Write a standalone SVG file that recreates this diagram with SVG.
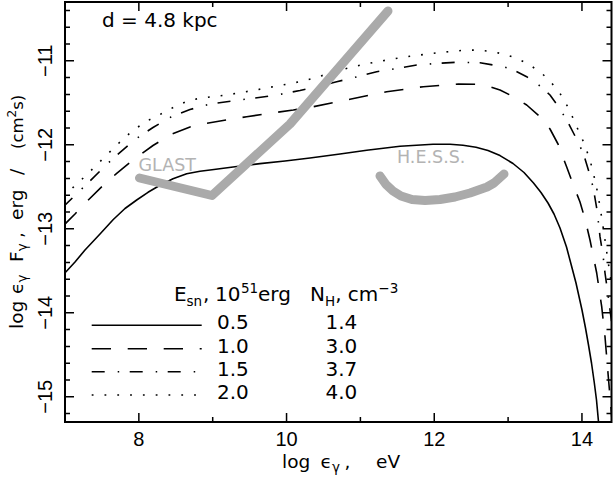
<svg xmlns="http://www.w3.org/2000/svg" width="613" height="484" viewBox="0 0 613 484">
<style>
  .frame{fill:none;stroke:#000;stroke-width:2}
  .tick{fill:none;stroke:#000;stroke-width:1.5}
  .crv{fill:none;stroke:#000;stroke-width:1.6;stroke-linejoin:round}
  .solid{}
  .dash{stroke-dasharray:19.3 16.7}
  .dashdot{stroke-dasharray:13 13 1.5 10.5}
  .dot{stroke-dasharray:1.8 11}
  .obs{fill:none;stroke:#aaaaaa;stroke-width:9;stroke-linecap:round;stroke-linejoin:round}
  .obslbl{font-family:"DejaVu Sans",sans-serif;font-size:17.5px;fill:#b3b3b3}
  .t{font-family:"DejaVu Sans",sans-serif;font-size:20px;fill:#000}
  .tl{font-family:"Liberation Sans",Arial,sans-serif;font-size:20px;fill:#000}
  .ax{font-family:"DejaVu Sans",sans-serif;font-size:18.5px;fill:#000}
  .small{font-size:13.5px}
</style>
<defs>
  <clipPath id="plotclip"><rect x="65" y="2" width="546.5" height="420"/></clipPath>
</defs>

<g id="frame">
  <rect class="frame" x="65" y="2" width="546.5" height="420"/>
  <path class="tick" d="M138.85 422v-9M286.55 422v-9M434.25 422v-9M581.95 422v-9M212.7 422v-5M360.4 422v-5M508.1 422v-5
  M138.85 2v9M286.55 2v9M434.25 2v9M581.95 2v9M212.7 2v5M360.4 2v5M508.1 2v5
  M65 10.4h5M65 27.2h5M65 44h5M65 60.8h9M65 77.6h5M65 94.4h5M65 111.2h5M65 128h5M65 144.8h9M65 161.6h5M65 178.4h5M65 195.2h5M65 212h5M65 228.8h9M65 245.6h5M65 262.4h5M65 279.2h5M65 296h5M65 312.8h9M65 329.6h5M65 346.4h5M65 363.2h5M65 380h5M65 396.8h9M65 413.6h5
  M611.5 10.4h-5M611.5 27.2h-5M611.5 44h-5M611.5 60.8h-9M611.5 77.6h-5M611.5 94.4h-5M611.5 111.2h-5M611.5 128h-5M611.5 144.8h-9M611.5 161.6h-5M611.5 178.4h-5M611.5 195.2h-5M611.5 212h-5M611.5 228.8h-9M611.5 245.6h-5M611.5 262.4h-5M611.5 279.2h-5M611.5 296h-5M611.5 312.8h-9M611.5 329.6h-5M611.5 346.4h-5M611.5 363.2h-5M611.5 380h-5M611.5 396.8h-9M611.5 413.6h-5"/>
</g>

<g id="axis-labels">
  <text class="tl" x="138.85" y="446" text-anchor="middle">8</text>
  <text class="tl" x="286.55" y="446" text-anchor="middle">10</text>
  <text class="tl" x="434.25" y="446" text-anchor="middle">12</text>
  <text class="tl" x="581.95" y="446" text-anchor="middle">14</text>
  <text class="tl" transform="translate(51.5,60.8) rotate(-90)" text-anchor="middle">−11</text>
  <text class="tl" transform="translate(51.5,144.8) rotate(-90)" text-anchor="middle">−12</text>
  <text class="tl" transform="translate(51.5,228.8) rotate(-90)" text-anchor="middle">−13</text>
  <text class="tl" transform="translate(51.5,312.8) rotate(-90)" text-anchor="middle">−14</text>
  <text class="tl" transform="translate(51.5,396.8) rotate(-90)" text-anchor="middle">−15</text>
  <text class="ax" y="467.7"><tspan x="282">log</tspan><tspan x="320.5">ϵ</tspan><tspan class="small" dy="4">γ</tspan><tspan x="344.5" dy="-4">,</tspan><tspan x="376">eV</tspan></text>
  <text class="ax" transform="translate(23,0) rotate(-90)"><tspan x="-329">log</tspan><tspan x="-294">ϵ</tspan><tspan class="small" dy="4">γ</tspan><tspan x="-262" dy="-4">F</tspan><tspan class="small" dy="4">γ</tspan><tspan x="-238" dy="-4">,</tspan><tspan x="-220">erg</tspan><tspan x="-175">/</tspan><tspan x="-149" font-size="16.5">(cm</tspan><tspan font-size="12" dy="-7.5">2</tspan><tspan font-size="16.5" dy="7.5">s)</tspan></text>
</g>

<g id="title">
  <text class="t" x="102" y="26.7">d = 4.8 kpc</text>
</g>

<g id="connectors" clip-path="url(#plotclip)">
  <polyline id="curve-0.5" class="crv solid" points="64,274 75,262 85,250 100,234 113.3,219.5 125,208.5 136.7,200 148,192.3 160,185.3 173,178.7 186.7,173.7 200,171.2 212,169.8 235,166.8 260,163.6 285,161 310,158 340,154 366.7,150.2 400,146.3 433,144.3 450,144.2 463,145.2 476,147.3 488,150.6 500,155.6 513,163.5 524,172.5 533.5,183 541,192.5 548,203 554,214 560,228 566.5,247 571,264 576,283 582,310 585.5,328 588.5,345 591.5,363 594.2,382 596.5,400 598.8,425"/>
  <polyline id="curve-1.0" class="crv dash" points="63,226 75,214 88.3,200 102,186.5 116.7,173.3 135,158.5 153,145.5 171.7,134 190,127 206.7,123.3 226,120 246.7,116.7 270,113.3 293.3,110 313.3,106.7 350,99.3 386.7,91.7 423.3,86.7 458.3,84 476.7,84.3 489,86.5 500,90 513,96.5 526.7,105 540,116.7 550,129 558,144 566.7,167 573,184 580,202 585,219 590,240 596.7,273 601.7,306.7 605,336.7 608.3,376.7 610.3,400 612,420"/>
  <polyline id="curve-1.5" class="crv dashdot" points="63,207 77,193.5 90,181 104,167 117,155 135,139.5 153,127.5 171,117 190,109.5 210,104 247,99 273,95.7 300,90.5 320,86 336.7,81.7 350,78.6 376.7,71.7 400,68 416.7,65 440,63.2 456.7,62.3 480,62.7 503.3,66.7 515,70.8 526.7,76.7 540,86 550,95 558,106 566.7,120 575,136 583.3,153.3 589,172 593.3,188 597,210 600,236.7 603,255 605,273 608.3,296.7 610,310 612,325"/>
  <polyline id="curve-2.0" class="crv dot" points="63,196.5 78,183 90,171.5 106.7,155 120,142 133.3,130 148,120.5 163,113 176,106 190,100 208,97.2 226.7,95 250,91 273.3,86.7 300,81.7 313.3,78.3 340,70 363,64.5 386.7,60 410,56.3 433.3,53.3 450,51.5 466.7,50 480,50.3 493.3,51.7 505,54.5 516.7,58.3 528,64 540,71.7 550,81 560,93.3 569,109 576.7,126.7 584,143 590,160 594,176 597.5,192 601,213 605,240 608.3,263 610,274 612,288"/>
</g>

<g id="glast">
  <polyline class="obs" points="139.5,178 212,195.5 290,124 388,11"/>
  <text class="obslbl" x="138.5" y="170.7">GLAST</text>
</g>

<g id="hess">
  <polyline class="obs" points="380,176 386,184.5 393,191 401,196 412,199.5 425,200.5 440,199.5 455,197 470,193 487,187 494,183 504,174"/>
  <text class="obslbl" x="397" y="162.7">H.E.S.S.</text>
</g>

<g id="legend">
  <text class="t" y="301"><tspan x="174">E</tspan><tspan class="small" x="186.5" dy="4.5">sn</tspan><tspan x="203" dy="-4.5">,</tspan><tspan x="215">10</tspan><tspan class="small" x="241" dy="-8">51</tspan><tspan x="258" dy="8">erg</tspan></text>
  <text class="t" y="301"><tspan x="310">N</tspan><tspan class="small" dy="4.5">H</tspan><tspan dy="-4.5">, cm</tspan><tspan class="small" dy="-8">−3</tspan></text>
  <line class="crv solid" x1="91.7" y1="325.3" x2="201.7" y2="325.3"/>
  <line class="crv dash" x1="91.7" y1="348.7" x2="201.7" y2="348.7"/>
  <line class="crv dashdot" x1="91.7" y1="371.7" x2="201.7" y2="371.7"/>
  <line class="crv dot" x1="91.7" y1="395" x2="201.7" y2="395"/>
  <text class="t" x="217" y="329.2">0.5</text>
  <text class="t" x="217" y="352.5">1.0</text>
  <text class="t" x="217" y="375.8">1.5</text>
  <text class="t" x="217" y="399.2">2.0</text>
  <text class="t" x="325.5" y="329.2">1.4</text>
  <text class="t" x="325.5" y="352.5">3.0</text>
  <text class="t" x="325.5" y="375.8">3.7</text>
  <text class="t" x="325.5" y="399.2">4.0</text>
</g>
</svg>
